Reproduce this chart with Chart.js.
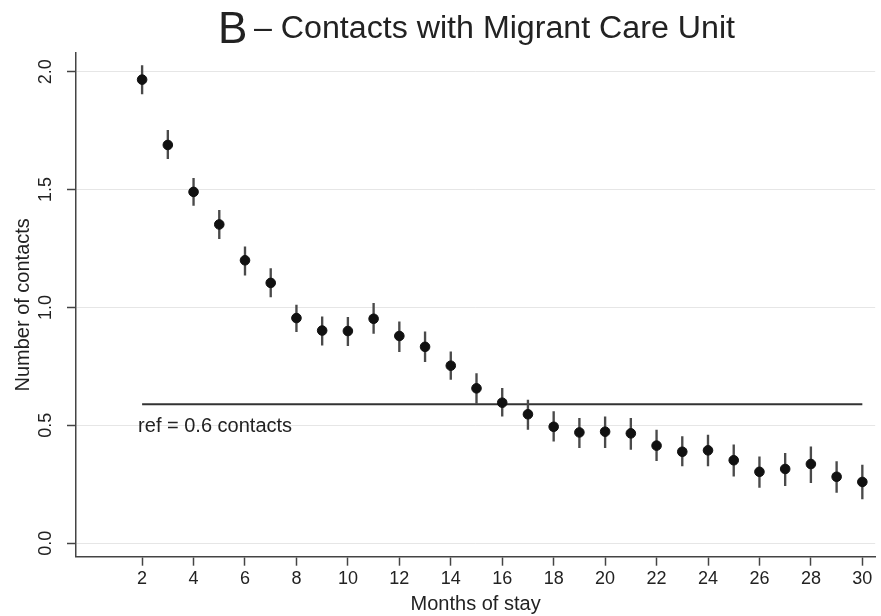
<!DOCTYPE html>
<html>
<head>
<meta charset="utf-8">
<script src="https://cdn.jsdelivr.net/npm/chart.js@4/dist/chart.umd.min.js"></script>
<style>
  body { margin: 0; background: #fff; }
  canvas { display: block; }
</style>
</head>
<body>
<canvas id="chart" width="881" height="616"></canvas>
<script>
// months of stay and mean number of contacts (with 95% CI)
const months = [2, 3, 4, 5, 6, 7, 8, 9, 10, 11, 12, 13, 14, 15, 16, 17, 18, 19, 20, 21, 22, 23, 24, 25, 26, 27, 28, 29, 30];
const contacts = [1.966, 1.689, 1.490, 1.352, 1.200, 1.104, 0.955, 0.902, 0.900, 0.952, 0.879, 0.833, 0.753, 0.657, 0.596,
                  0.547, 0.494, 0.470, 0.473, 0.466, 0.414, 0.388, 0.394, 0.352, 0.303, 0.315, 0.336, 0.282, 0.260];
const ciLow = [1.906, 1.631, 1.433, 1.292, 1.137, 1.045, 0.897, 0.840, 0.838, 0.890, 0.812, 0.770, 0.695, 0.593, 0.539,
               0.483, 0.433, 0.405, 0.405, 0.398, 0.350, 0.328, 0.328, 0.285, 0.237, 0.244, 0.257, 0.216, 0.188];
const ciHigh = [2.026, 1.751, 1.547, 1.412, 1.257, 1.165, 1.010, 0.960, 0.958, 1.017, 0.939, 0.897, 0.812, 0.720, 0.657,
                0.607, 0.558, 0.530, 0.536, 0.530, 0.480, 0.452, 0.459, 0.417, 0.367, 0.381, 0.409, 0.346, 0.332];
const refValue = 0.59;
const refSpan = [2, 30];
const xTicks = [2, 4, 6, 8, 10, 12, 14, 16, 18, 20, 22, 24, 26, 28, 30];
const yTicks = [0, 0.5, 1, 1.5, 2];
const yTickLabels = ['0.0', '0.5', '1.0', '1.5', '2.0'];

const textColor = '#222';
const axisColor = '#444';
const fontFamily = '"Liberation Sans", Arial, sans-serif';

// title with large "B", rest of the text slightly condensed
const titlePlugin = {
  id: 'panelTitle',
  afterDraw(chart) {
    const ctx = chart.ctx;
    ctx.save();
    ctx.fillStyle = textColor;
    ctx.textBaseline = 'alphabetic';
    ctx.textAlign = 'left';
    ctx.font = '44px ' + fontFamily;
    ctx.fillText('B', 218, 43);
    const rest = '\u2013 Contacts with Migrant Care Unit';
    ctx.font = '31px ' + fontFamily;
    const w = ctx.measureText(rest).width;
    ctx.translate(254, 38);
    ctx.scale(481 / w, 1);
    ctx.fillText(rest, 0, 0);
    ctx.restore();
  }
};

// rotated y tick labels and the reference label
const labelPlugin = {
  id: 'extraLabels',
  afterDraw(chart) {
    const ctx = chart.ctx;
    const y = chart.scales.y;
    const x = chart.scales.x;
    ctx.save();
    ctx.fillStyle = textColor;
    ctx.font = '18px ' + fontFamily;
    ctx.textAlign = 'center';
    ctx.textBaseline = 'middle';
    yTicks.forEach((v, i) => {
      ctx.save();
      ctx.translate(46, y.getPixelForValue(v));
      ctx.rotate(-Math.PI / 2);
      ctx.fillText(yTickLabels[i], 0, 0);
      ctx.restore();
    });
    ctx.font = '20px ' + fontFamily;
    ctx.textAlign = 'left';
    ctx.fillText('ref = 0.6 contacts', x.getPixelForValue(refSpan[0]) - 4, y.getPixelForValue(refValue) + 22);
    ctx.restore();
  }
};

new Chart(document.getElementById('chart'), {
  data: {
    datasets: [{
      type: 'scatter',
      label: 'Contacts',
      data: months.map((m, i) => ({ x: m, y: contacts[i] })),
      backgroundColor: '#111',
      borderColor: '#111',
      pointRadius: 4.8,
      pointHoverRadius: 4.8,
      order: 1
    }, {
      type: 'bar',
      label: '95% CI',
      data: months.map((m, i) => ({ x: m, y: [ciLow[i], ciHigh[i]] })),
      backgroundColor: '#4a4a4a',
      barThickness: 1.7,
      order: 2
    }, {
      type: 'line',
      label: 'ref',
      data: refSpan.map(m => ({ x: m, y: refValue })),
      borderColor: '#333',
      borderWidth: 2,
      pointRadius: 0,
      order: 3
    }]
  },
  options: {
    responsive: false,
    animation: false,
    events: [],
    layout: { padding: { top: 53, right: 3, left: 0, bottom: 0 } },
    plugins: {
      legend: { display: false },
      tooltip: { enabled: false }
    },
    scales: {
      x: {
        type: 'linear',
        min: -0.57,
        max: 30.5,
        offset: false,
        afterBuildTicks: s => { s.ticks = xTicks.map(v => ({ value: v })); },
        afterFit: s => { s.height = 59.3; s.paddingLeft = 0; s.paddingRight = 0; },
        grid: { drawOnChartArea: false, offset: false, tickLength: 9, tickColor: axisColor, tickWidth: 1.5 },
        border: { color: axisColor, width: 1.5 },
        ticks: { color: textColor, font: { size: 18, family: fontFamily }, padding: 3, maxRotation: 0 },
        title: { display: true, text: 'Months of stay', color: textColor, font: { size: 20, family: fontFamily }, padding: 0 }
      },
      y: {
        min: -0.057,
        max: 2.079,
        afterBuildTicks: s => { s.ticks = yTicks.map(v => ({ value: v })); },
        afterFit: s => { s.width = 76; s.paddingTop = 0; s.paddingBottom = 0; },
        grid: { color: '#e6e6e6', lineWidth: 1, tickLength: 9, tickColor: axisColor, tickWidth: 1.5 },
        border: { color: axisColor, width: 1.5 },
        ticks: { display: false },
        title: { display: true, text: 'Number of contacts', color: textColor, font: { size: 20, family: fontFamily }, padding: { top: 11, bottom: 0 } }
      }
    }
  },
  plugins: [titlePlugin, labelPlugin]
});
</script>
</body>
</html>
